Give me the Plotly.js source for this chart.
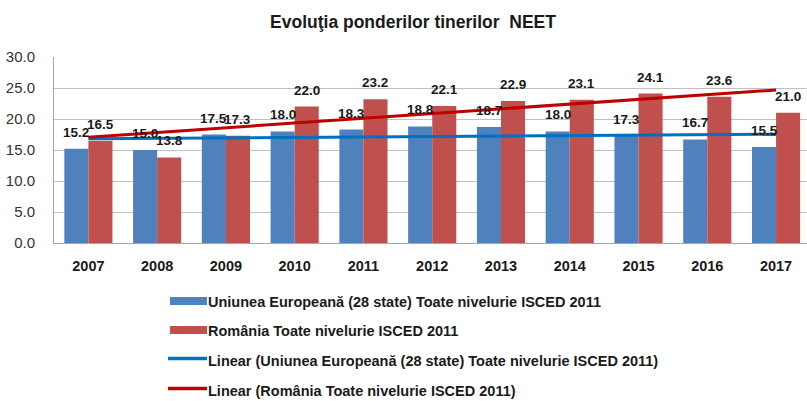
<!DOCTYPE html>
<html>
<head>
<meta charset="utf-8">
<script src="https://cdn.plot.ly/plotly-3.0.1.min.js"></script>
<style>
  html, body { margin: 0; padding: 0; background: #fff; overflow: hidden; }
  #chart { width: 807px; height: 401px; }
</style>
</head>
<body>
<div id="chart"></div>
<script>
// ---- Data ----
const years = ["2007","2008","2009","2010","2011","2012","2013","2014","2015","2016","2017"];
const euValues = [15.2, 15.0, 17.5, 18.0, 18.3, 18.8, 18.7, 18.0, 17.3, 16.7, 15.5];
const roValues = [16.5, 13.8, 17.3, 22.0, 23.2, 22.1, 22.9, 23.1, 24.1, 23.6, 21.0];
const seriesNames = [
  "Uniunea Europeană (28 state) Toate nivelurie ISCED 2011",
  "România Toate nivelurie ISCED 2011",
  "Linear (Uniunea Europeană (28 state) Toate nivelurie ISCED 2011)",
  "Linear (România Toate nivelurie ISCED 2011)"
];
const yTicks = [0, 5, 10, 15, 20, 25, 30];
const titleText = "Evoluţia ponderilor tinerilor\u00a0 NEET";

// ---- Linear trend (least squares, as Excel's "Linear" trendline) ----
function linearTrend(vals) {
  const n = vals.length;
  const xs = vals.map((_, i) => i + 1);
  const mx = xs.reduce((a, b) => a + b, 0) / n;
  const my = vals.reduce((a, b) => a + b, 0) / n;
  let sxy = 0, sxx = 0;
  for (let i = 0; i < n; i++) { sxy += (xs[i] - mx) * (vals[i] - my); sxx += (xs[i] - mx) ** 2; }
  const b = sxy / sxx, a = my - b * mx;
  return xs.map(x => a + b * x);
}

// ---- Style ----
const FONT = "'Liberation Sans', Arial, sans-serif";
const W = 807, H = 401;
const M = { l: 54, r: 0, t: 57, b: 158 };
const plotW = W - M.l - M.r, plotH = H - M.t - M.b;
const px2x = px => (px - M.l) / plotW;
const px2y = py => (H - M.b - py) / plotH;

const euBar = "#4F81BD", roBar = "#C0504D";
const euLine = "#0070C0", roLine = "#C00000";

const traces = [
  { type: "bar", x: years, y: euValues, name: seriesNames[0], marker: { color: euBar }, hoverinfo: "y" },
  { type: "bar", x: years, y: roValues, name: seriesNames[1], marker: { color: roBar }, hoverinfo: "y" },
  { type: "scatter", mode: "lines", x: years, y: linearTrend(euValues), name: seriesNames[2],
    line: { color: euLine, width: 3 }, hoverinfo: "skip" },
  { type: "scatter", mode: "lines", x: years, y: linearTrend(roValues), name: seriesNames[3],
    line: { color: roLine, width: 3 }, hoverinfo: "skip" }
];

// data labels (x given as category index on the category axis)
const annotations = [];
years.forEach((yr, i) => {
  [[euValues, -12], [roValues, 12]].forEach(([vals, dx]) => {
    annotations.push({
      x: i, y: vals[i], xref: "x", yref: "y",
      text: vals[i].toFixed(1), showarrow: false,
      xanchor: "center", yanchor: "bottom", xshift: dx, yshift: 7,
      font: { family: FONT, size: 13.5, color: "#1a1a1a", weight: "bold" }
    });
  });
});

// custom legend (wide swatches like the original)
const rowY = [301.5, 330.5, 360.5, 390.5];
const shapes = [];
[euBar, roBar].forEach((c, i) => {
  shapes.push({ type: "rect", xref: "paper", yref: "paper",
    x0: px2x(170), x1: px2x(207), y0: px2y(rowY[i] - 4.5), y1: px2y(rowY[i] + 3.5),
    fillcolor: c, line: { width: 0 } });
});
[euLine, roLine].forEach((c, i) => {
  shapes.push({ type: "line", xref: "paper", yref: "paper",
    x0: px2x(168), x1: px2x(207), y0: px2y(rowY[i + 2] - 2), y1: px2y(rowY[i + 2] - 2),
    line: { color: c, width: 3.5 } });
});
seriesNames.forEach((nm, i) => {
  annotations.push({
    xref: "paper", yref: "paper", x: px2x(206), y: px2y(rowY[i]),
    xanchor: "left", yanchor: "middle", showarrow: false, text: nm,
    font: { family: FONT, size: 14.5, color: "#1a1a1a", weight: "bold" }
  });
});

const layout = {
  width: W, height: H,
  margin: M,
  paper_bgcolor: "#ffffff", plot_bgcolor: "#ffffff",
  showlegend: false,
  barmode: "group", bargap: 0.3, bargroupgap: 0,
  title: {
    text: titleText, xref: "paper", x: px2x(413), xanchor: "center",
    yref: "container", y: 1 - 22 / H, yanchor: "middle",
    font: { family: FONT, size: 17.5, color: "#1a1a1a", weight: "bold" }
  },
  xaxis: {
    type: "category", range: [-0.5, 10.45],
    showgrid: false, showline: true, linecolor: "#a6a6a6", linewidth: 1,
    ticks: "", ticklabelstandoff: 10,
    tickfont: { family: FONT, size: 14.5, color: "#1a1a1a", weight: "bold" },
    fixedrange: true
  },
  yaxis: {
    range: [0, 30], tickvals: yTicks, ticktext: yTicks.map(v => v.toFixed(1)),
    showgrid: true, gridcolor: "#c0c0c0", gridwidth: 1,
    showline: true, linecolor: "#a6a6a6", linewidth: 1, zeroline: false,
    ticks: "", ticklabelstandoff: 15,
    tickfont: { family: FONT, size: 15, color: "#333333" },
    fixedrange: true
  },
  annotations: annotations,
  shapes: shapes
};

Plotly.newPlot("chart", traces, layout, { displayModeBar: false, staticPlot: true });
</script>
</body>
</html>
